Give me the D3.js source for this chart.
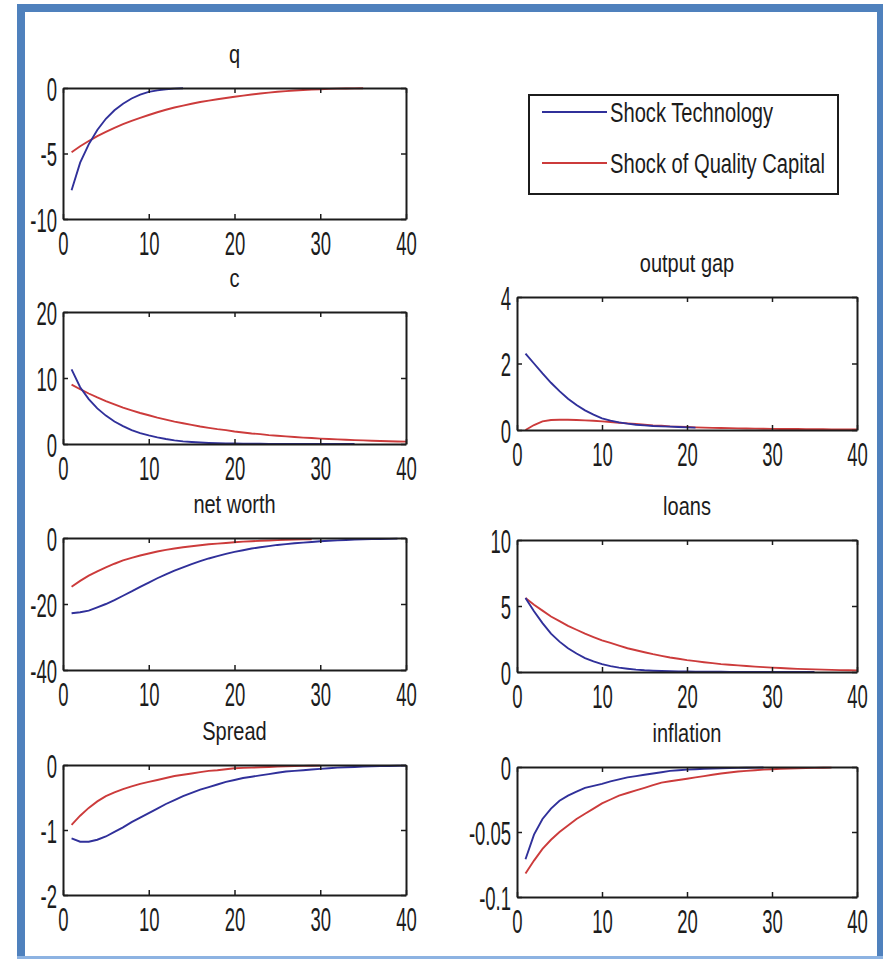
<!DOCTYPE html>
<html>
<head>
<meta charset="utf-8">
<script src="https://cdn.jsdelivr.net/npm/d3@7/dist/d3.min.js"></script>
<style>
  body { margin: 0; background: #fff; }
  svg { display: block; }
</style>
</head>
<body>
<svg width="883" height="959"></svg>
<script>
const periods = [0, 40];
const xTicks = [0, 10, 20, 30, 40];
const seriesNames = ["Shock Technology", "Shock of Quality Capital"];

const qTech = [-7.8, -5.7, -4.3, -3.2, -2.35, -1.7, -1.2, -0.8, -0.5, -0.3, -0.18, -0.1, -0.05, -0.02];
const qQual = [-4.9, -4.45, -4.05, -3.68, -3.35, -3.04, -2.76, -2.51, -2.28, -2.06, -1.85, -1.66, -1.49, -1.34, -1.2, -1.07, -0.96, -0.86, -0.76, -0.67, -0.58, -0.5, -0.42, -0.35, -0.29, -0.24, -0.19, -0.15, -0.12, -0.09, -0.07, -0.05, -0.04, -0.03, -0.02];

const cTech = [11.3, 8.6, 6.8, 5.4, 4.3, 3.4, 2.7, 2.1, 1.65, 1.3, 1.0, 0.75, 0.55, 0.4, 0.3, 0.22, 0.16, 0.12, 0.09, 0.07, 0.05, 0.04, 0.03, 0.025, 0.02, 0.015, 0.012, 0.01, 0.008, 0.006, 0.005, 0.004, 0.003, 0.002];
const cQual = [9.0, 8.3, 7.65, 7.05, 6.5, 6.0, 5.5, 5.1, 4.7, 4.35, 4.0, 3.7, 3.4, 3.15, 2.9, 2.65, 2.45, 2.25, 2.1, 1.9, 1.75, 1.6, 1.5, 1.35, 1.25, 1.15, 1.05, 0.97, 0.9, 0.82, 0.76, 0.7, 0.64, 0.59, 0.55, 0.5, 0.46, 0.42, 0.39, 0.36];

const gapTech = [2.3, 2.0, 1.7, 1.42, 1.17, 0.94, 0.75, 0.59, 0.46, 0.35, 0.28, 0.23, 0.19, 0.16, 0.14, 0.12, 0.11, 0.1, 0.09, 0.08, 0.07];
const gapQual = [0, 0.15, 0.26, 0.3, 0.31, 0.31, 0.3, 0.29, 0.28, 0.26, 0.24, 0.22, 0.2, 0.18, 0.16, 0.14, 0.13, 0.11, 0.1, 0.09, 0.08, 0.07, 0.065, 0.06, 0.055, 0.05, 0.045, 0.04, 0.038, 0.035, 0.032, 0.03, 0.028, 0.026, 0.024, 0.022, 0.02, 0.018, 0.016, 0.015];

const worthTech = [-22.8, -22.5, -22.0, -21.0, -20.0, -18.8, -17.5, -16.2, -14.8, -13.5, -12.2, -11.0, -9.9, -8.9, -7.9, -7.0, -6.2, -5.5, -4.8, -4.2, -3.7, -3.2, -2.8, -2.45, -2.1, -1.85, -1.6, -1.4, -1.2, -1.0, -0.85, -0.72, -0.6, -0.5, -0.42, -0.35, -0.3, -0.25, -0.2];
const worthQual = [-14.8, -13.0, -11.4, -10.1, -8.9, -7.8, -6.8, -6.0, -5.3, -4.7, -4.1, -3.6, -3.2, -2.8, -2.5, -2.2, -1.9, -1.7, -1.5, -1.3, -1.1, -1.0, -0.85, -0.75, -0.65, -0.55, -0.48, -0.42, -0.36];

const loansTech = [5.6, 4.6, 3.7, 2.9, 2.3, 1.8, 1.4, 1.05, 0.8, 0.6, 0.45, 0.33, 0.25, 0.18, 0.13, 0.1, 0.08, 0.06, 0.05, 0.04, 0.03, 0.025, 0.02, 0.016, 0.013, 0.01, 0.008, 0.006, 0.005, 0.004, 0.003, 0.002, 0.002, 0.001, 0.001];
const loansQual = [5.6, 5.1, 4.65, 4.2, 3.85, 3.5, 3.2, 2.9, 2.65, 2.4, 2.2, 2.0, 1.8, 1.65, 1.5, 1.35, 1.22, 1.1, 1.0, 0.9, 0.82, 0.74, 0.67, 0.6, 0.55, 0.5, 0.45, 0.41, 0.37, 0.33, 0.3, 0.27, 0.24, 0.22, 0.2, 0.18, 0.16, 0.14, 0.13, 0.12];

const spreadTech = [-1.13, -1.18, -1.18, -1.15, -1.1, -1.03, -0.96, -0.88, -0.81, -0.74, -0.67, -0.6, -0.54, -0.48, -0.43, -0.38, -0.34, -0.3, -0.26, -0.23, -0.2, -0.18, -0.16, -0.14, -0.12, -0.1, -0.09, -0.08, -0.07, -0.06, -0.05, -0.04, -0.035, -0.03, -0.025, -0.02, -0.018, -0.015, -0.012, -0.01];
const spreadQual = [-0.92, -0.78, -0.66, -0.56, -0.48, -0.42, -0.37, -0.33, -0.29, -0.26, -0.23, -0.2, -0.17, -0.15, -0.13, -0.11, -0.09, -0.08, -0.065, -0.05, -0.045, -0.04, -0.035, -0.03, -0.025, -0.02, -0.017, -0.014, -0.012, -0.01];

const inflTech = [-0.071, -0.052, -0.04, -0.032, -0.026, -0.022, -0.019, -0.016, -0.0145, -0.013, -0.011, -0.0095, -0.008, -0.007, -0.006, -0.005, -0.004, -0.003, -0.0025, -0.002, -0.0017, -0.0014, -0.0012, -0.001, -0.0008, -0.0007, -0.0006, -0.0005, -0.0004];
const inflQual = [-0.082, -0.072, -0.063, -0.056, -0.05, -0.045, -0.04, -0.036, -0.032, -0.028, -0.025, -0.022, -0.02, -0.018, -0.016, -0.014, -0.012, -0.011, -0.01, -0.009, -0.008, -0.007, -0.006, -0.005, -0.0042, -0.0035, -0.003, -0.0025, -0.002, -0.0017, -0.0014, -0.0012, -0.001, -0.0008, -0.0007, -0.0006, -0.0005];

const BLUE = "#30309a";
const RED = "#cc3b3b";
const INK = "#1c1c1c";
const FONT = "'Liberation Sans', Arial, sans-serif";

// panel boxes on the page (left, top, right, bottom)
const panels = [
  { title: "q", box: [63, 88, 406, 219], yDomain: [-10, 0], yTicks: [-10, -5, 0], tech: qTech, qual: qQual },
  { title: "c", box: [63, 312, 406, 444], yDomain: [0, 20], yTicks: [0, 10, 20], tech: cTech, qual: cQual },
  { title: "output gap", box: [517, 297, 857, 430], yDomain: [0, 4], yTicks: [0, 2, 4], tech: gapTech, qual: gapQual },
  { title: "net worth", box: [63, 538, 406, 670], yDomain: [-40, 0], yTicks: [-40, -20, 0], tech: worthTech, qual: worthQual },
  { title: "loans", box: [517, 540, 857, 672], yDomain: [0, 10], yTicks: [0, 5, 10], tech: loansTech, qual: loansQual },
  { title: "Spread", box: [63, 765, 406, 895], yDomain: [-2, 0], yTicks: [-2, -1, 0], tech: spreadTech, qual: spreadQual },
  { title: "inflation", box: [517, 767, 857, 897], yDomain: [-0.1, 0], yTicks: [-0.1, -0.05, 0], tech: inflTech, qual: inflQual },
];

function styleAxis(g) {
  g.attr("font-family", FONT).attr("font-size", 33).attr("fill", INK);
  g.select(".domain").attr("stroke", INK).attr("stroke-width", 2);
  g.selectAll(".tick line").attr("stroke", INK).attr("stroke-width", 1.5);
  g.selectAll(".tick text").attr("fill", INK);
}

function drawPanel(svg, p) {
  const [x0, y0, x1, y1] = p.box;
  const x = d3.scaleLinear().domain(periods).range([x0, x1]);
  const y = d3.scaleLinear().domain(p.yDomain).range([y1, y0]);
  const g = svg.append("g").attr("class", "panel");

  const line = d3.line().x((d, i) => x(i + 1)).y((d) => y(d));
  g.append("path").datum(p.qual).attr("d", line)
    .attr("fill", "none").attr("stroke", RED).attr("stroke-width", 1.9);
  g.append("path").datum(p.tech).attr("d", line)
    .attr("fill", "none").attr("stroke", BLUE).attr("stroke-width", 1.9);

  const fmt = (d) => String(d);

  g.append("g").attr("transform", `translate(0,${y1})`)
    .call(d3.axisBottom(x).tickValues(xTicks).tickSizeInner(-5).tickSizeOuter(0).tickFormat(fmt))
    .call(styleAxis)
    .call((a) => a.selectAll(".tick text")
      .attr("y", 0).attr("dy", null)
      .attr("transform", "translate(0,36) scale(0.56,1)"));

  g.append("g").attr("transform", `translate(0,${y0})`)
    .call(d3.axisTop(x).tickValues(xTicks).tickSizeInner(-5).tickSizeOuter(0).tickFormat(""))
    .call(styleAxis);

  g.append("g").attr("transform", `translate(${x0},0)`)
    .call(d3.axisLeft(y).tickValues(p.yTicks).tickSizeInner(-5).tickSizeOuter(0).tickFormat(fmt))
    .call(styleAxis)
    .call((a) => a.selectAll(".tick text")
      .attr("x", 0).attr("dy", null)
      .attr("transform", "translate(-6,12) scale(0.56,1)"));

  g.append("g").attr("transform", `translate(${x1},0)`)
    .call(d3.axisRight(y).tickValues(p.yTicks).tickSizeInner(-5).tickSizeOuter(0).tickFormat(""))
    .call(styleAxis);

  g.append("text")
    .attr("transform", `translate(${(x0 + x1) / 2},${y0 - 25}) scale(0.8,1)`)
    .attr("text-anchor", "middle")
    .attr("font-family", FONT)
    .attr("font-size", 25)
    .attr("fill", INK)
    .text(p.title);
}

function drawLegend(svg) {
  const lg = svg.append("g").attr("class", "legend");
  lg.append("rect")
    .attr("x", 529).attr("y", 95).attr("width", 309).attr("height", 99)
    .attr("fill", "#fff").attr("stroke", INK).attr("stroke-width", 2);

  const rows = [
    { name: seriesNames[0], color: BLUE, y: 112 },
    { name: seriesNames[1], color: RED, y: 163 },
  ];
  rows.forEach((r) => {
    lg.append("line")
      .attr("x1", 542).attr("x2", 607).attr("y1", r.y).attr("y2", r.y)
      .attr("stroke", r.color).attr("stroke-width", 1.9);
    lg.append("text")
      .attr("transform", `translate(610,${r.y + 10}) scale(0.72,1)`)
      .attr("font-family", FONT)
      .attr("font-size", 28)
      .attr("fill", INK)
      .text(r.name);
  });
}

function drawFrame(svg) {
  const frame = svg.append("g").attr("class", "frame").attr("fill", "#4f81bd");
  frame.append("rect").attr("x", 17).attr("y", 4).attr("width", 8).attr("height", 955);
  frame.append("rect").attr("x", 17).attr("y", 4).attr("width", 866).attr("height", 8);
  frame.append("rect").attr("x", 877).attr("y", 4).attr("width", 6).attr("height", 955);
  frame.append("rect").attr("x", 17).attr("y", 956).attr("width", 866).attr("height", 3).attr("fill", "#8db3e2");
}

window.addEventListener("load", () => {
  const svg = d3.select("svg");
  svg.append("rect").attr("width", 883).attr("height", 959).attr("fill", "#fff");
  drawFrame(svg);
  panels.forEach((p) => drawPanel(svg, p));
  drawLegend(svg);
});
</script>
</body>
</html>
